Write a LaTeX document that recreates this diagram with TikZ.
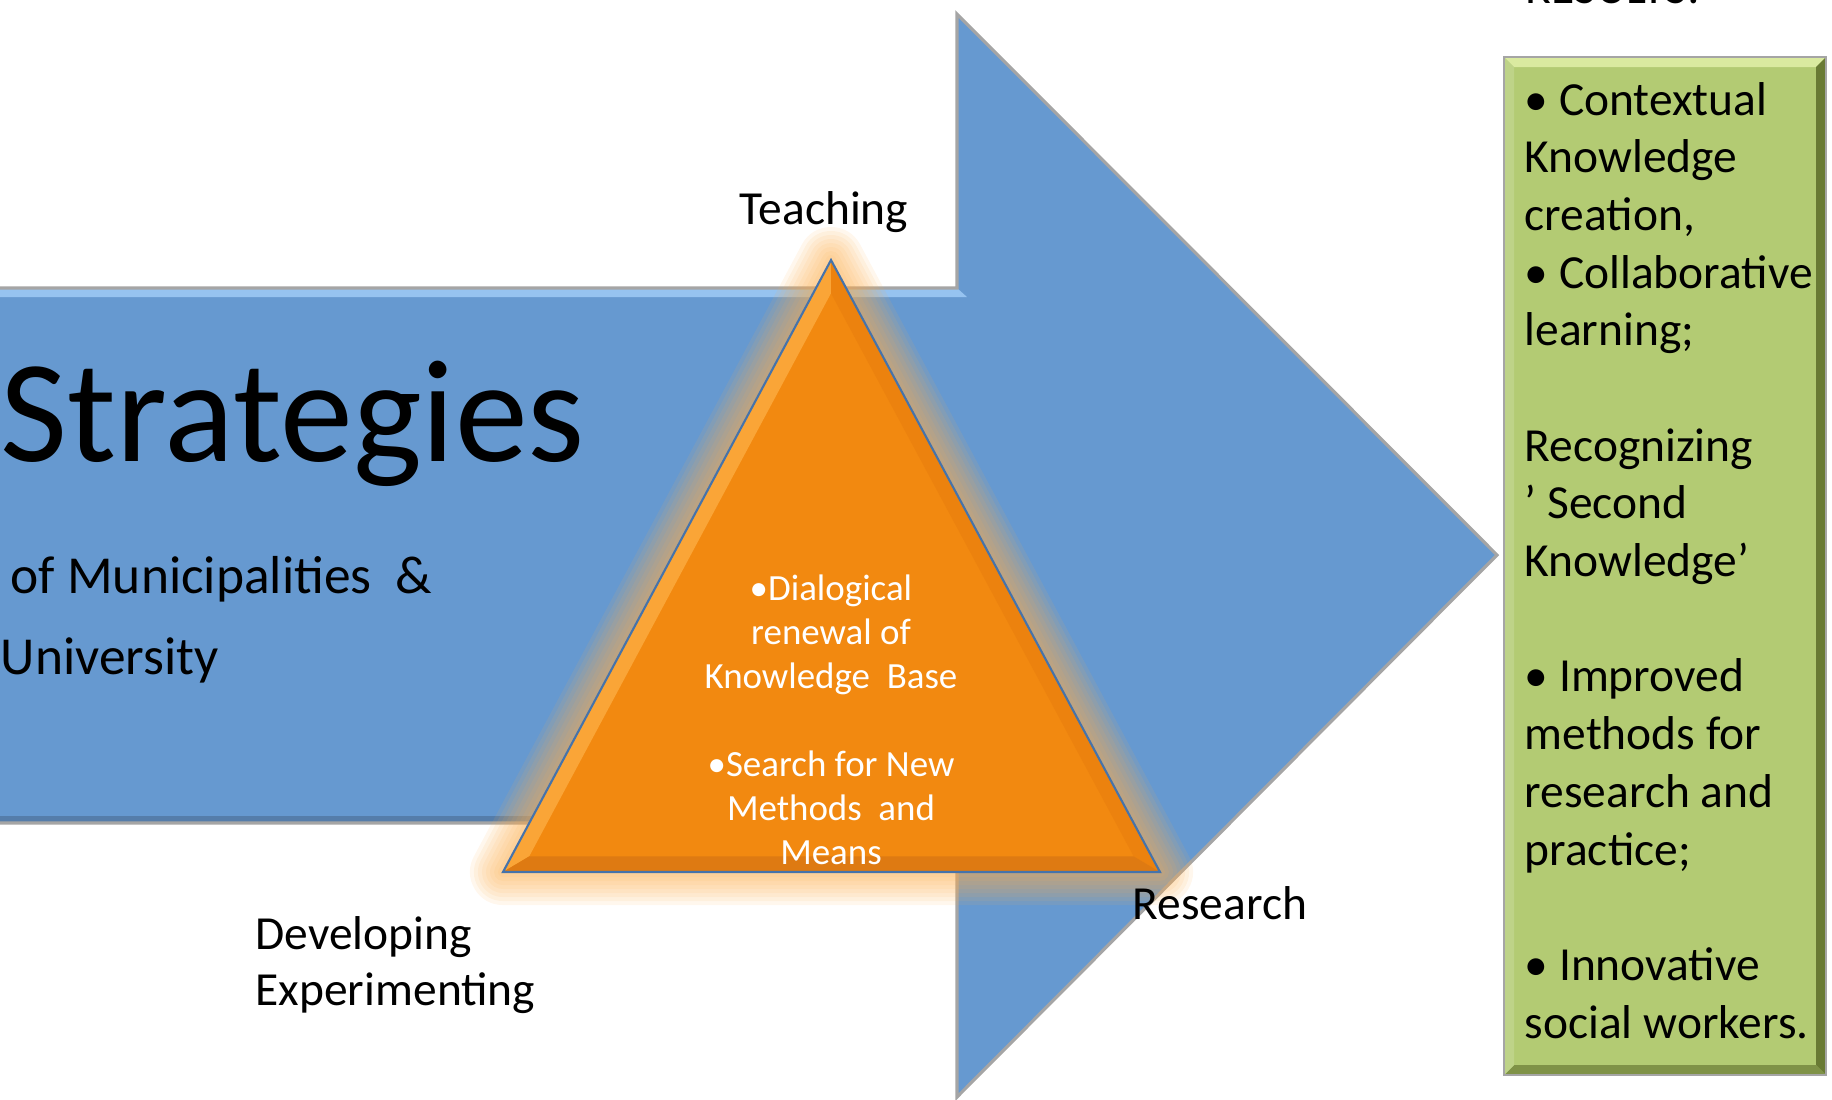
\documentclass[tikz,border=0pt]{standalone}
\usepackage{fontspec}
\setmainfont{Carlito}
\usetikzlibrary{calc}
\definecolor{arrowblue}{RGB}{102,153,208}
\definecolor{arrowlight}{RGB}{150,195,240}
\definecolor{arrowdark}{RGB}{85,125,170}
\definecolor{arrowedge}{RGB}{165,165,165}
\definecolor{trimain}{RGB}{242,137,16}
\definecolor{trilight}{RGB}{250,165,55}
\definecolor{triside}{RGB}{236,130,14}
\definecolor{tridark}{RGB}{222,122,18}
\definecolor{triedge}{RGB}{70,115,170}
\definecolor{hazecol}{RGB}{252,175,80}
\definecolor{boxgreen}{RGB}{179,203,115}
\definecolor{boxlight}{RGB}{218,234,160}
\definecolor{boxdark}{RGB}{105,122,52}
\tikzset{lbl/.style = {inner sep=0, font=\fontsize{13.5}{16.4}\selectfont},
         sub/.style = {inner sep=0, font=\fontsize{15.2}{18}\selectfont},
         tritext/.style = {inner sep=0, text=white, align=center, font=\fontsize{10.5}{12.5}\selectfont},
         haze/.style = {draw=hazecol, draw opacity=0.1, line join=round}}

\begin{document}
\begin{tikzpicture}[x=0.01cm, y=-0.01cm]
      \useasboundingbox (0,0) rectangle (1832,1099);
      \fill [arrowblue] (0,288) -- (957,288) -- (957,14) -- (1497,555) -- (957,1097) -- (957,823) -- (0,823) -- cycle;
      \fill [arrowlight] (0,288) -- (957,288) -- (967,297) -- (0,297) -- cycle;
      \fill [arrowdark] (0,816) -- (964,816) -- (957,823) -- (0,823) -- cycle;
      \draw [arrowedge, line width=0.9pt] (0,288) -- (957,288) -- (957,14) -- (1497,555) -- (957,1097) -- (957,823) -- (0,823);
      \node [anchor=base west, inner sep=0, font=\fontsize{41.5}{50}\selectfont] (title) at (0,461) {Strategies};
      \node [sub, anchor=base west] (muni) at (10,593) {of Municipalities~~\&};
      \node [sub, anchor=base west] (univ) at (0,674) {University};
      \coordinate (apex) at (831,260);
      \coordinate (baseL) at (503,872);
      \coordinate (baseR) at (1160,872);
      \coordinate (inc) at (831,676);
      \foreach \g in {66,58,...,10}{
      \draw [haze, line width=\g*0.2845pt] (apex) -- (baseL) -- (baseR) -- cycle;}
      \coordinate (apexI) at ($(inc)!.92!(apex)$);
      \coordinate (baseLI) at ($(inc)!.92!(baseL)$);
      \coordinate (baseRI) at ($(inc)!.92!(baseR)$);
      \fill [trimain] (apex) -- (baseL) -- (baseR) -- cycle;
      \fill [trilight] (apex) -- (baseL) -- (baseLI) -- (apexI) -- cycle;
      \fill [triside] (apex) -- (apexI) -- (baseRI) -- (baseR) -- cycle;
      \fill [tridark] (baseL) -- (baseR) -- (baseRI) -- (baseLI) -- cycle;
      \draw [triedge, line width=0.6pt, line join=miter] (apex) -- (baseL) -- (baseR) -- cycle;
      \node [tritext, anchor=base] (core) at (831,864) {•Dialogical\\renewal of\\Knowledge~~Base\\[12.5pt]•Search for New\\Methods~~and\\Means};
      \node [lbl, anchor=base] (teach) at (824,224) {Teaching};
      \node [lbl, anchor=base west] (dev) at (255,949) {Developing};
      \node [lbl, anchor=base west] (exper) at (255,1005) {Experimenting};
      \node [lbl, anchor=base west] (research) at (1132,919) {Research};
      \fill [boxgreen] (1504,57) rectangle (1826,1075);
      \fill [boxlight] (1504,57) -- (1826,57) -- (1816,67) -- (1514,67) -- cycle;
      \fill [boxdark] (1826,57) -- (1826,1075) -- (1816,1065) -- (1816,67) -- cycle;
      \fill [boxdark!70!boxgreen] (1504,1075) -- (1826,1075) -- (1816,1065) -- (1514,1065) -- cycle;
      \fill [boxgreen!85!white] (1504,57) -- (1514,67) -- (1514,1065) -- (1504,1075) -- cycle;
      \draw [arrowedge, line width=0.6pt] (1504,57) rectangle (1826,1075);
      \node [lbl, anchor=base west] (results) at (1525,3) {RESULTS:};
      \node [lbl, anchor=base west, align=left] (outcomes) at (1524,1038) {• Contextual\\Knowledge\\creation,\\• Collaborative\\learning;\\[16.4pt]Recognizing\\’ Second\\Knowledge’\\[16.4pt]• Improved\\methods for\\research and\\practice;\\[16.4pt]• Innovative\\social workers.};
    \end{tikzpicture}
\end{document}
